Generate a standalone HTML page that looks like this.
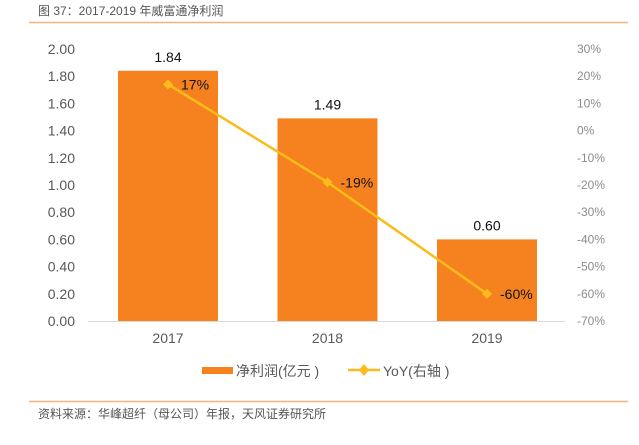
<!DOCTYPE html>
<html><head><meta charset="utf-8"><style>
body{margin:0;background:#fff;width:639px;height:440px;overflow:hidden}
svg{font-family:"Liberation Sans","Noto Sans CJK SC",sans-serif}
</style></head><body>
<svg width="639" height="440">
<text x="38" y="15" font-size="12" fill="#555">图 37：2017-2019 年威富通净利润</text>
<line x1="29" y1="22.5" x2="628" y2="22.5" stroke="#F7B27A" stroke-width="1.5"/>
<g id="axes"></g><g id="marks"></g>
<rect x="202" y="367" width="31" height="7" fill="#F5821F"/>
<text x="236" y="376" font-size="14" fill="#595959">净利润(亿元 )</text>
<line x1="348" y1="370" x2="380" y2="370" stroke="#FBBC1B" stroke-width="2.5"/>
<path d="M364 364 L369 370 L364 376 L359 370Z" fill="#FBBC1B"/>
<text x="383" y="376" font-size="14" fill="#595959">YoY(右轴 )</text>
<line x1="29" y1="401.5" x2="628" y2="401.5" stroke="#F7B27A" stroke-width="1.5"/>
<text x="38" y="418" font-size="12" fill="#555">资料来源：华峰超纤（母公司）年报，天风证券研究所</text>
</svg>
<script>
const categories=["2017","2018","2019"];
const profit=[1.84,1.49,0.60];
const yoy=[17,-19,-60];
const leftTicks=["0.00","0.20","0.40","0.60","0.80","1.00","1.20","1.40","1.60","1.80","2.00"];
const rightTicks=[-70,-60,-50,-40,-30,-20,-10,0,10,20,30];
const NS="http://www.w3.org/2000/svg";
const yL=v=>321-136*v/2*2/2*1; // 0..2 => 321..49
function yLeft(v){return 321-(v/2)*272;}
function yRight(p){return 321-((p+70)/100)*272;}
function xc(i){return 168+i*159.5;}
function mk(tag,attrs,parent,text){const e=document.createElementNS(NS,tag);for(const k in attrs)e.setAttribute(k,attrs[k]);if(text!==undefined)e.textContent=text;parent.appendChild(e);return e;}
const axes=document.getElementById('axes'),marks=document.getElementById('marks');
leftTicks.forEach(t=>{const e=mk('text',{x:75,y:yLeft(+t)+5,'font-size':14,fill:'#595959','text-anchor':'end'},axes,t);

});
rightTicks.forEach(t=>{const e=mk('text',{x:t<0?577:577,y:yRight(t)+4,'font-size':12,fill:'#8c8c8c'},axes,(t<0?'-':'')+Math.abs(t)+'%');

});
const ax=mk('line',{x1:88,y1:321.5,x2:565,y2:321.5,stroke:'#d9d9d9','stroke-width':1},axes);


categories.forEach((c,i)=>{const e=mk('text',{x:xc(i),y:343,'font-size':14,fill:'#595959','text-anchor':'middle'},axes,c);

});
profit.forEach((v,i)=>{const b=mk('rect',{x:xc(i)-50,y:yLeft(v),width:100,height:321-yLeft(v),fill:'#F5821F'},marks);


const l=mk('text',{x:xc(i),y:yLeft(v)-9,'font-size':14,fill:'#111','text-anchor':'middle'},marks,v.toFixed(2));

});
const pl=mk('polyline',{points:yoy.map((p,i)=>xc(i)+','+yRight(p)).join(' '),fill:'none',stroke:'#FBBC1B','stroke-width':2.5},marks);


yoy.forEach((p,i)=>{const x=xc(i),y=yRight(p);
const m=mk('path',{d:`M${x} ${y-5} L${x+5} ${y} L${x} ${y+5} L${x-5} ${y}Z`,fill:'#FBBC1B'},marks);


const t=mk('text',{x:x+13,y:y+5,'font-size':14,fill:'#111'},marks,p+'%');

});
</script>
</body></html>
